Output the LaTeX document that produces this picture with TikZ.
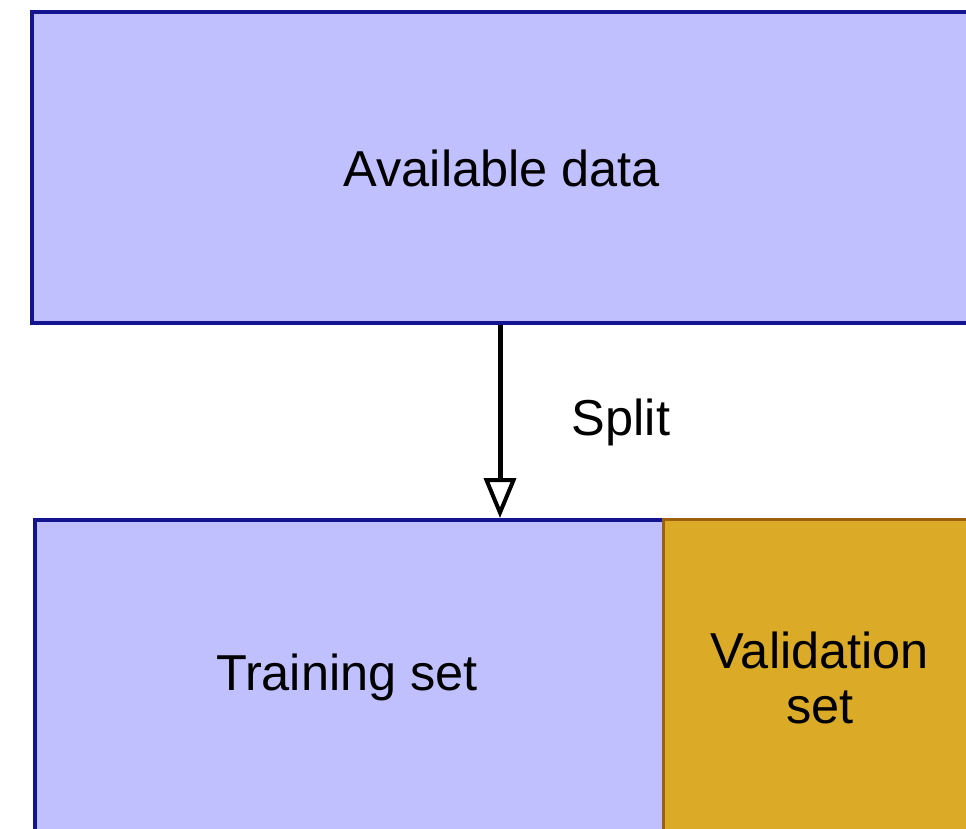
\documentclass[tikz,border=0pt]{standalone}
\usepackage{fontspec}
\setmainfont{Liberation Sans}
\usetikzlibrary{arrows.meta}
\definecolor{boxblue}{RGB}{192,192,255}
\definecolor{edgeblue}{RGB}{20,20,145}
\definecolor{gold}{RGB}{219,171,40}
\definecolor{edgebrown}{RGB}{158,96,12}
\tikzset{
  bluebox/.style={draw=edgeblue, fill=boxblue, line width=4pt, rectangle, anchor=north west, inner sep=0pt},
  goldbox/.style={draw=edgebrown, fill=gold, line width=3pt, rectangle, anchor=north west, inner sep=0pt},
  lbl/.style={font=\fontsize{50.5}{55}\selectfont, align=center, inner sep=0pt},
  splitarrow/.style={line width=5pt, -{Triangle[open, length=40pt, width=32pt, line width=4pt]}}
}
\begin{document}
\begin{tikzpicture}[x=1pt,y=-1pt]
\useasboundingbox (0,0) rectangle (966,829);
\clip (0,0) rectangle (966,829);
\fill[white] (0,0) rectangle (966,829);
\node[bluebox, minimum width=1000pt, minimum height=311pt] (avail) at (30,10) {};
\node[bluebox, minimum width=629pt, minimum height=400pt] (train) at (33,518) {};
\node[goldbox, minimum width=400pt, minimum height=400pt] (valid) at (662,518) {};
\node[lbl] (availtxt) at (502,168) {Available data};
\node[lbl] (traintxt) at (347,677) {Training set};
\node[lbl] (validtxt) at (820,678) {Validation\\set};
\coordinate (ax) at (500,0);
\draw[splitarrow] (avail.south -| ax) -- (train.north -| ax);
\node[lbl] (splittxt) at (621,422) {Split};
\end{tikzpicture}
\end{document}
